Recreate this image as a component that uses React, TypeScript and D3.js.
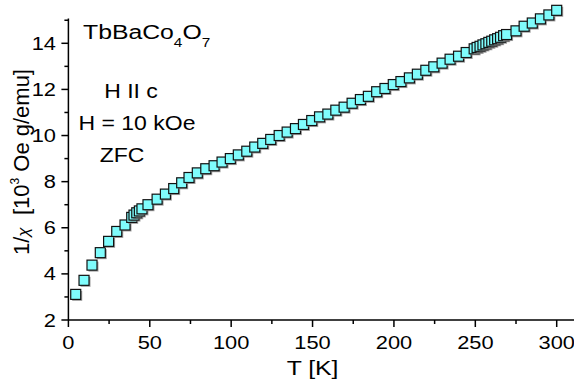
import React from "react";
import * as d3 from "d3";

// 1/chi vs T, TbBaCo4O7, H || c, 10 kOe, ZFC
const temps = [
  4.5, 9.6, 14.5, 19.6, 24.7, 29.7, 34.8, 38.9, 40.3, 42.0, 43.6, 45.2, 48.9,
  54.5, 59.6, 64.7, 69.6, 74.1, 79.2, 84.4, 89.5, 94.4, 99.5, 104.4, 109.6,
  114.5, 119.4, 124.3, 129.5, 134.4, 139.5, 144.4, 149.5, 154.3, 159.4, 164.3,
  169.4, 174.3, 179.4, 184.3, 189.4, 194.5, 199.6, 204.3, 209.5, 214.4, 219.6,
  224.5, 229.6, 234.5, 239.7, 244.4, 249.3, 251.1, 252.9, 254.7, 256.5, 258.3,
  260.1, 261.9, 263.7, 265.5, 267.4, 269.2, 275.0, 280.0, 285.0, 290.0, 295.2,
  300.0,
];
const invChi = [
  3.11, 3.72, 4.38, 4.92, 5.41, 5.84, 6.12, 6.45, 6.55, 6.65, 6.73, 6.82, 7.0,
  7.24, 7.46, 7.7, 7.95, 8.18, 8.38, 8.56, 8.69, 8.85, 9.0, 9.16, 9.32, 9.5,
  9.66, 9.83, 10.0, 10.15, 10.3, 10.48, 10.65, 10.81, 10.93, 11.1, 11.23, 11.4,
  11.56, 11.7, 11.9, 12.04, 12.21, 12.34, 12.5, 12.66, 12.83, 12.98, 13.14,
  13.31, 13.44, 13.6, 13.76, 13.82, 13.87, 13.93, 13.98, 14.04, 14.09, 14.15,
  14.2, 14.26, 14.33, 14.38, 14.54, 14.74, 14.88, 15.06, 15.23, 15.43,
];
const xTicks = [0, 50, 100, 150, 200, 250, 300];
const yTicks = [2, 4, 6, 8, 10, 12, 14];

const W = 574;
const H = 383;
const FONT = "Arial, 'Liberation Sans', sans-serif";
const SX = 1.18;

const x = d3.scaleLinear().domain([0, 300]).range([68.4, 556.7]);
const y = d3.scaleLinear().domain([2, 14]).range([320, 43.3]);

function Txt({ px, py, size, anchor = "start", children }: any) {
  return (
    <g transform={`translate(${px},${py}) scale(${SX},1)`}>
      <text x={0} y={0} fontSize={size} textAnchor={anchor} fontFamily={FONT} fill="#000">
        {children}
      </text>
    </g>
  );
}

export default function App() {
  const x0 = x(0);
  const y0 = y(2);
  const yTop = y(15.08);
  const xMinor = d3.range(25, 325, 50);
  const yMinor = d3.range(3, 16, 2);
  const s = 10;
  return (
    <svg width={W} height={H} style={{ position: "absolute", left: 0, top: 0 }}>
      <rect width={W} height={H} fill="#fff" />
      {/* axes */}
      <line x1={x0} x2={W + 5} y1={y0} y2={y0} stroke="#000" strokeWidth={1.5} />
      <line x1={x0} x2={x0} y1={yTop} y2={y0} stroke="#000" strokeWidth={1.5} />
      {xTicks.map((t) => (
        <g key={"xt" + t}>
          <line x1={x(t)} x2={x(t)} y1={y0} y2={y0 + 7} stroke="#000" strokeWidth={1.5} />
          <Txt px={x(t)} py={349} size={18.5} anchor="middle">{t}</Txt>
        </g>
      ))}
      {xMinor.map((t) => (
        <line key={"xm" + t} x1={x(t)} x2={x(t)} y1={y0} y2={y0 + 4} stroke="#000" strokeWidth={1.5} />
      ))}
      {yTicks.map((t) => (
        <g key={"yt" + t}>
          <line x1={x0 - 7} x2={x0} y1={y(t)} y2={y(t)} stroke="#000" strokeWidth={1.5} />
          <Txt px={56} py={y(t) + 6.5} size={18.5} anchor="end">{t}</Txt>
        </g>
      ))}
      {yMinor.filter((t) => y(t) >= yTop).map((t) => (
        <line key={"ym" + t} x1={x0 - 4} x2={x0} y1={y(t)} y2={y(t)} stroke="#000" strokeWidth={1.5} />
      ))}
      {/* axis titles */}
      <Txt px={x(150)} py={375} size={21} anchor="middle">T [K]</Txt>
      <g transform={`translate(29,162) rotate(-90)`}>
        <text x={0} y={0} fontSize={22} textAnchor="middle" fontFamily={FONT}>
          1/<tspan fontStyle="italic" fontSize={17}>χ</tspan>
          {"\u00a0\u00a0[10"}
          <tspan dy={-10} fontSize={12}>3</tspan>
          <tspan dy={10}>{" Oe g/emu]"}</tspan>
        </text>
      </g>
      {/* annotations */}
      <Txt px={83} py={39} size={21}>
        TbBaCo<tspan dy={8} fontSize={13}>4</tspan>
        <tspan dy={-8}>O</tspan>
        <tspan dy={8} fontSize={13}>7</tspan>
      </Txt>
      <Txt px={131} py={98} size={19.5} anchor="middle">H II c</Txt>
      <Txt px={137} py={130} size={19.5} anchor="middle">H = 10 kOe</Txt>
      <Txt px={122} py={162} size={19.5} anchor="middle">ZFC</Txt>
      {/* markers */}
      {temps.map((t, i) => (
        <g key={"p" + i}>
          <rect x={x(t) - s / 2 + 1.5} y={y(invChi[i]) - s / 2 + 1.5} width={s} height={s} fill="#8a8a8a" opacity={0.8} />
          <rect x={x(t) - s / 2} y={y(invChi[i]) - s / 2} width={s} height={s} fill="#7ffcfc" stroke="#111" strokeWidth={1.2} />
        </g>
      ))}
    </svg>
  );
}
